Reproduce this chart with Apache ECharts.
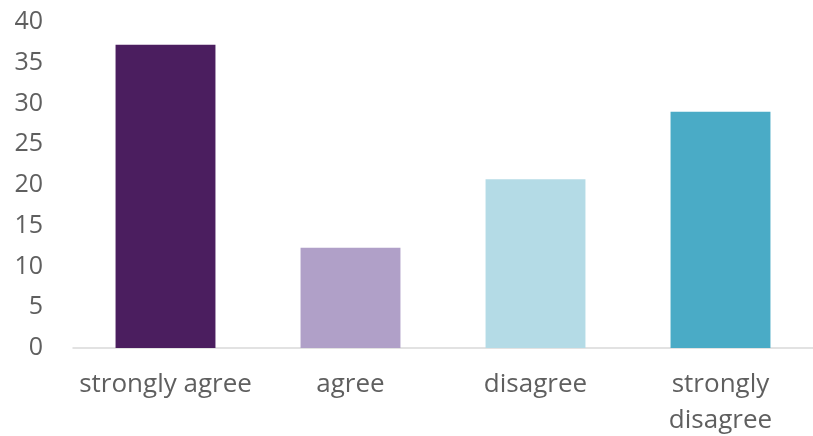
<!DOCTYPE html>
<html>
<head>
<meta charset="utf-8">
<script src="https://cdn.jsdelivr.net/npm/echarts@6/dist/echarts.min.js"></script>
<style>
  html, body { margin: 0; padding: 0; background: #fff; }
  #chart { width: 813px; height: 436px; }
</style>
</head>
<body>
<div id="chart"></div>
<script>
const categories = ["strongly agree", "agree", "disagree", "strongly\ndisagree"];
const values = [37.2, 12.3, 20.7, 29];
const barColors = ["#4b1e5f", "#b0a0c8", "#b4dbe6", "#4aabc6"];
const yTicks = { min: 0, max: 40, interval: 5 };

const chart = echarts.init(document.getElementById("chart"));
chart.setOption({
  animation: false,
  grid: { left: 73, right: 0, top: 22, bottom: 88, outerBoundsMode: "none", containLabel: false },
  xAxis: {
    type: "category",
    data: categories,
    axisLine: { lineStyle: { color: "#d9d9d9", width: 1.5 } },
    axisTick: { show: false },
    axisLabel: {
      interval: 0,
      color: "#5f5f5f",
      fontFamily: "Open Sans",
      fontSize: 26,
      lineHeight: 36,
      margin: 19
    }
  },
  yAxis: {
    type: "value",
    min: yTicks.min,
    max: yTicks.max,
    interval: yTicks.interval,
    splitLine: { show: false },
    axisLine: { show: false },
    axisTick: { show: false },
    axisLabel: {
      color: "#5f5f5f",
      fontFamily: "Open Sans",
      fontSize: 25,
      margin: 30
    }
  },
  series: [{
    type: "bar",
    data: values.map((v, i) => ({ value: v, itemStyle: { color: barColors[i] } })),
    barCategoryGap: "46%"
  }]
});
</script>
</body>
</html>
